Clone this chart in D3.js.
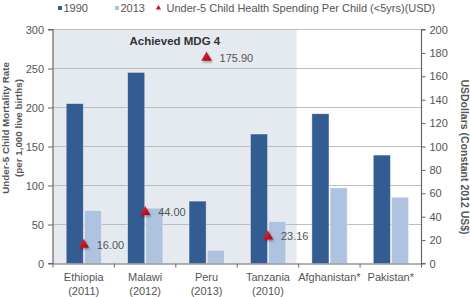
<!DOCTYPE html>
<html><head><meta charset="utf-8">
<script src="https://cdn.jsdelivr.net/npm/d3@7/dist/d3.min.js"></script>
<style>
body{margin:0;background:#fff;}
svg{font-family:"Liberation Sans",Arial,Helvetica,sans-serif;}
</style></head>
<body><svg id="c" width="470" height="297"></svg>
<script>
const countries = ["Ethiopia", "Malawi", "Peru", "Tanzania", "Afghanistan*", "Pakistan*"];
const years = ["(2011)", "(2012)", "(2013)", "(2010)", "", ""];
const series = ["1990", "2013"];
const mort1990 = [205, 245, 80, 166, 192, 139];
const mort2013 = [68, 71, 17, 54, 97, 85];
const spending = [16.00, 44.00, 175.90, 23.16, null, null];
const spendLabels = ["16.00", "44.00", "175.90", "23.16", "", ""];
const leftTicks = [0, 50, 100, 150, 200, 250, 300];
const rightTicks = [0, 20, 40, 60, 80, 100, 120, 140, 160, 180, 200];
const mdgCountries = ["Ethiopia", "Malawi", "Peru", "Tanzania"];

const colors = {"1990": "#335d92", "2013": "#adc3df"};
const svg = d3.select("#c");
const L = 53, R = 421.5, T = 29.5, B = 263.5;

const x0 = d3.scaleBand().domain(countries).range([L, R]).padding(0);
const bw = x0.bandwidth();
const x1 = d3.scaleBand().domain(series).range([bw * 0.215, bw * 0.79]).paddingInner(0.06);
const yL = d3.scaleLinear().domain([0, 300]).range([B, T]);
const yR = d3.scaleLinear().domain([0, 200]).range([B, T]);

// defs
const defs = svg.append("defs");
const f = defs.append("filter").attr("id", "sh").attr("x", "-50%").attr("y", "-50%").attr("width", "200%").attr("height", "200%");
f.append("feDropShadow").attr("dx", 1).attr("dy", 1.5).attr("stdDeviation", 1).attr("flood-color", "#000").attr("flood-opacity", 0.35);
const tg = defs.append("linearGradient").attr("id", "tg").attr("x1", 0).attr("y1", 0).attr("x2", 1).attr("y2", 1);
tg.append("stop").attr("offset", "0%").attr("stop-color", "#e8303a");
tg.append("stop").attr("offset", "100%").attr("stop-color", "#a80010");

// shaded MDG region
const mdgEnd = x0(mdgCountries[mdgCountries.length - 1]) + bw - 2;
svg.append("rect").attr("x", L).attr("y", yL(300)).attr("width", mdgEnd - L).attr("height", B - yL(300))
  .attr("fill", "#e5eaf0");
svg.append("text").attr("x", (L + mdgEnd) / 2).attr("y", 45).attr("text-anchor", "middle")
  .attr("font-size", 11.5).attr("font-weight", "bold").attr("fill", "#333").text("Achieved MDG 4");

// gridlines
svg.append("g").selectAll("line").data(leftTicks.filter(d => d > 0)).join("line")
  .attr("x1", L).attr("x2", R).attr("y1", d => yL(d)).attr("y2", d => yL(d))
  .attr("stroke", "#bdbdbd").attr("stroke-width", 1.2);

// bars
const data = countries.map((c, i) => ({c, vals: [{s: "1990", v: mort1990[i]}, {s: "2013", v: mort2013[i]}]}));
svg.append("g").selectAll("g").data(data).join("g")
  .attr("transform", d => `translate(${x0(d.c)},0)`)
  .selectAll("rect").data(d => d.vals).join("rect")
  .attr("x", d => x1(d.s)).attr("width", x1.bandwidth())
  .attr("y", d => yL(d.v)).attr("height", d => B - yL(d.v))
  .attr("fill", d => colors[d.s]).attr("stroke", "#ffffff").attr("stroke-opacity", 0.5).attr("stroke-width", 0.8);

// axes
const axColor = "#666";
const gl = svg.append("g").attr("transform", `translate(${L},0)`)
  .call(d3.axisLeft(yL).tickValues(leftTicks).tickSize(5).tickPadding(4));
const gr = svg.append("g").attr("transform", `translate(${R},0)`)
  .call(d3.axisRight(yR).tickValues(rightTicks).tickSize(4).tickPadding(4));
const gb = svg.append("g").attr("transform", `translate(0,${B})`)
  .call(d3.axisBottom(x0).tickValues([]).tickSizeOuter(0));
[gl, gr, gb].forEach(g => {
  g.selectAll("path").attr("stroke", axColor).attr("stroke-width", 1.2);
  g.selectAll("line").attr("stroke", axColor);
  g.selectAll("text").attr("fill", "#555").attr("font-size", 11).attr("font-family", "'Liberation Sans',Arial,sans-serif");
});
gl.select("path").attr("d", `M-5,${T}H0V${B}H-5`);
gr.select("path").attr("d", `M4,${T}H0V${B}H4`);
// bottom boundary ticks
const bounds = countries.map(c => x0(c)).concat([R]);
svg.append("g").selectAll("line").data(bounds).join("line")
  .attr("x1", d => d).attr("x2", d => d).attr("y1", B).attr("y2", B + 4)
  .attr("stroke", axColor).attr("stroke-width", 1);

// category labels
const cl = svg.append("g").selectAll("text").data(countries).join("text")
  .attr("x", d => x0(d) + bw / 2).attr("text-anchor", "middle")
  .attr("font-size", 11).attr("fill", "#555");
cl.append("tspan").attr("x", d => x0(d) + bw / 2).attr("y", 281).text(d => d);
cl.append("tspan").attr("x", d => x0(d) + bw / 2).attr("y", 294.5).text((d, i) => years[i]);

// triangles
const tri = d3.symbol().type(d3.symbolTriangle).size(48);
const sp = countries.map((c, i) => ({c, v: spending[i], lab: spendLabels[i]})).filter(d => d.v != null);
svg.append("g").selectAll("path").data(sp).join("path")
  .attr("d", tri).attr("transform", d => `translate(${x0(d.c) + bw / 2},${yR(d.v)})`)
  .attr("fill", "url(#tg)").attr("filter", "url(#sh)");
svg.append("g").selectAll("text").data(sp).join("text")
  .attr("x", d => x0(d.c) + bw / 2 + 13).attr("y", d => yR(d.v) + 4)
  .attr("font-size", 11).attr("fill", "#555").text(d => d.lab);

// axis titles
svg.append("text").attr("transform", "translate(8.5,128) rotate(-90)").attr("text-anchor", "middle")
  .attr("font-size", 9.8).attr("font-weight", "bold").attr("fill", "#555").text("Under-5 Child Mortality Rate");
svg.append("text").attr("transform", "translate(21.5,128) rotate(-90)").attr("text-anchor", "middle")
  .attr("font-size", 9.8).attr("font-weight", "bold").attr("fill", "#555").text("(per 1,000 live births)");
svg.append("text").attr("transform", "translate(460.5,157) rotate(90)").attr("text-anchor", "middle")
  .attr("font-size", 10.5).attr("font-weight", "bold").attr("fill", "#555").text("USDollars (Constant 2012 US$)");

// legend
const lg = svg.append("g").attr("font-size", 11).attr("fill", "#555");
lg.append("rect").attr("x", 58).attr("y", 6).attr("width", 4).attr("height", 4).attr("fill", colors["1990"]);
lg.append("text").attr("x", 63.5).attr("y", 12).text(series[0]);
lg.append("rect").attr("x", 115).attr("y", 6).attr("width", 4).attr("height", 4).attr("fill", colors["2013"]);
lg.append("text").attr("x", 120.5).attr("y", 12).text(series[1]);
lg.append("path").attr("d", d3.symbol().type(d3.symbolTriangle).size(12))
  .attr("transform", "translate(158.5,8)").attr("fill", "#c8101e");
lg.append("text").attr("x", 166.5).attr("y", 12).text("Under-5 Child Health Spending Per Child (<5yrs)(USD)");
</script></body></html>
